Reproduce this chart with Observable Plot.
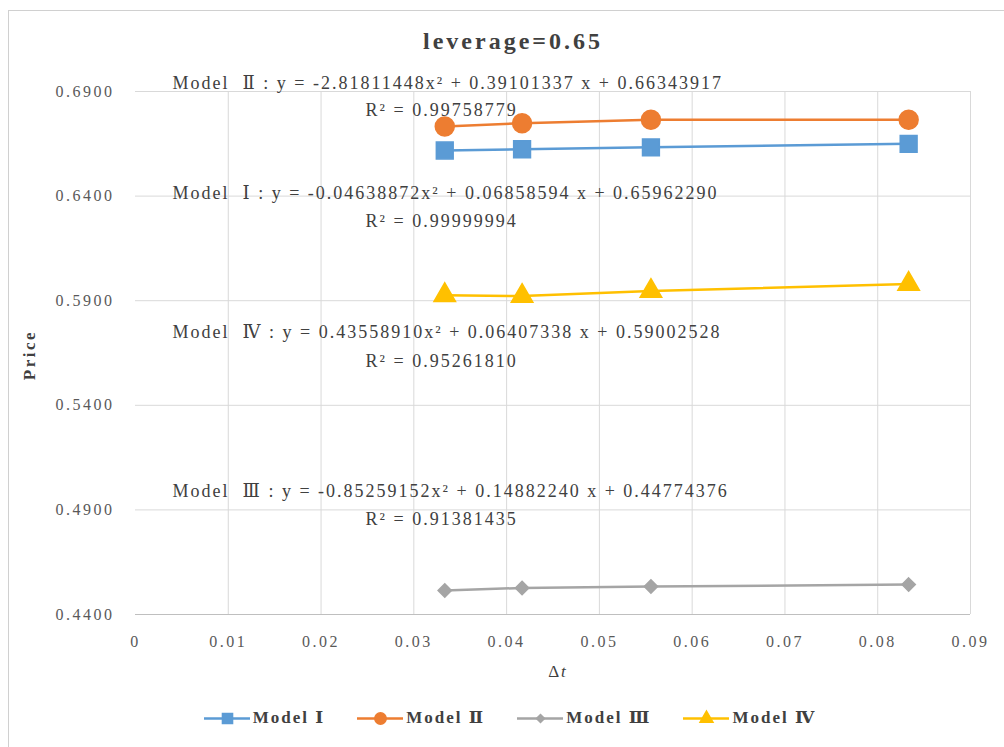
<!DOCTYPE html>
<html>
<head>
<meta charset="utf-8">
<script src="https://cdn.jsdelivr.net/npm/d3@7"></script>
<script src="https://cdn.jsdelivr.net/npm/@observablehq/plot@0.6"></script>
<style>
  body { margin: 0; background: #fff; font-family: "Liberation Serif", "DejaVu Serif", serif; }
  #wrap { position: relative; width: 1004px; height: 747px; overflow: hidden; }
  #frame { position: absolute; left: 8px; top: 10px; width: 1000px; height: 745px; border: 1px solid #d0d0d0; box-sizing: border-box; }
  #title { position: absolute; left: 0; width: 1026px; top: 28px; text-align: center; font-weight: bold; font-size: 24px; letter-spacing: 3px; color: #404040; }
  #chart { position: absolute; left: 0; top: 60px; }
  #ylabel { position: absolute; left: 30px; top: 355px; transform: translate(-50%, -50%) rotate(-90deg); font-weight: bold; font-size: 17px; letter-spacing: 2.5px; color: #404040; }
  #xlabel { position: absolute; left: 558px; top: 672px; transform: translate(-50%, -50%); font-size: 17px; letter-spacing: 2px; color: #404040; }
  #legend { position: absolute; top: 707px; left: 0; width: 1020px; display: flex; justify-content: center; gap: 32px; font-weight: bold; font-size: 17px; letter-spacing: 2px; color: #404040; }
  .item { display: flex; align-items: center; gap: 3px; }
  #chart svg text { font-family: "Liberation Serif", "DejaVu Serif", serif !important; }
  #chart g[aria-label="y-axis tick label"] text,
  #chart g[aria-label="x-axis tick label"] text { letter-spacing: 2.5px; }
  #chart g[aria-label="text"] text { letter-spacing: 2px; }
</style>
</head>
<body>
<div id="wrap">
  <div id="frame"></div>
  <div id="title">leverage=0.65</div>
  <div id="chart"></div>
  <div id="ylabel">Price</div>
  <div id="xlabel">Δ<i>t</i></div>
  <div id="legend"></div>
</div>
<script>
const dt = [1/30, 1/24, 1/18, 1/12];
const seriesNames = ["Model Ⅰ", "Model Ⅱ", "Model Ⅲ", "Model Ⅳ"];
const modelI   = [0.6618, 0.6624, 0.6633, 0.6650];
const modelII  = [0.6733, 0.6748, 0.6765, 0.6765];
const modelIII = [0.4515, 0.4527, 0.4534, 0.4543];
const modelIV  = [0.5926, 0.5922, 0.5946, 0.5980];
const seriesValues = [modelI, modelII, modelIII, modelIV];
const colors = ["#5B9BD5", "#ED7D31", "#A5A5A5", "#FFC000"];
const symbols = ["square", "circle", "diamond2", "triangle"];
const radii = [9.5, 9.5, 6, 8];
const yTicks = [0.44, 0.49, 0.54, 0.59, 0.64, 0.69];
const xTicks = [0, 0.01, 0.02, 0.03, 0.04, 0.05, 0.06, 0.07, 0.08, 0.09];
const eqTexts = [
  "Model  Ⅱ : y = -2.81811448x² + 0.39101337 x + 0.66343917",
  "R² = 0.99758779",
  "Model  Ⅰ : y = -0.04638872x² + 0.06858594 x + 0.65962290",
  "R² = 0.99999994",
  "Model  Ⅳ : y = 0.43558910x² + 0.06407338 x + 0.59002528",
  "R² = 0.95261810",
  "Model  Ⅲ : y = -0.85259152x² + 0.14882240 x + 0.44774376",
  "R² = 0.91381435"
];
const eqX = [0.0040, 0.0248, 0.0040, 0.0248, 0.0040, 0.0248, 0.0040, 0.0248];
const eqY = [0.6938, 0.6809, 0.6412, 0.6279, 0.5748, 0.5609, 0.4988, 0.4854];

const rows = [];
seriesNames.forEach((s, i) => dt.forEach((x, j) => rows.push({series: s, idx: i, x, y: seriesValues[i][j]})));
const notes = eqTexts.map((t, i) => ({t, x: eqX[i], y: eqY[i]}));
const FONT = "'Liberation Serif', 'DejaVu Serif', serif";

const marks = [
  Plot.gridY(yTicks, {stroke: "#d9d9d9", strokeOpacity: 1}),
  Plot.gridX(xTicks.slice(1), {stroke: "#d9d9d9", strokeOpacity: 1}),
  Plot.ruleY([0.44], {stroke: "#bfbfbf"}),
  Plot.axisY(yTicks, {tickSize: 0, tickPadding: 21, tickFormat: d3.format(".4f"), fontSize: 16, fontFamily: FONT, fill: "#595959", label: null}),
  Plot.axisX(xTicks, {tickSize: 0, tickPadding: 21, tickFormat: d => d3.format("")(+d.toFixed(2)), fontSize: 16, fontFamily: FONT, fill: "#595959", label: null})
];
seriesNames.forEach((s, i) => {
  const data = rows.filter(r => r.idx === i);
  marks.push(Plot.line(data, {x: "x", y: "y", stroke: colors[i], strokeWidth: 2.5}));
  marks.push(Plot.dot(data, {x: "x", y: "y", fill: colors[i], stroke: colors[i], symbol: () => symbols[i], r: radii[i]}));
});
marks.push(Plot.text(notes, {x: "x", y: "y", text: "t", textAnchor: "start", fontSize: 18, fill: "#404040", fontFamily: FONT}));

const chart = Plot.plot({
  width: 1004,
  height: 620,
  marginLeft: 135,
  marginRight: 34,
  marginTop: 31,
  marginBottom: 66,
  style: {fontFamily: FONT, background: "transparent", overflow: "visible"},
  x: {domain: [0, 0.09]},
  y: {domain: [0.44, 0.69]},
  symbol: {type: "identity"},
  marks
});
document.getElementById("chart").appendChild(chart);

const legend = document.getElementById("legend");
seriesNames.forEach((s, i) => {
  const item = document.createElement("div");
  item.className = "item";
  const sw = Plot.plot({
    width: 46, height: 20, margin: 0,
    x: {domain: [0, 1], axis: null}, y: {domain: [0, 1], axis: null},
    style: {background: "transparent", overflow: "visible"},
    marks: [
      Plot.ruleY([0.5], {x1: 0, x2: 1, stroke: colors[i], strokeWidth: 2.5}),
      Plot.dot([{x: 0.5, y: 0.5}], {x: "x", y: "y", fill: colors[i], stroke: colors[i], symbol: () => symbols[i], r: radii[i] * 0.6})
    ]
  });
  item.appendChild(sw);
  const lbl = document.createElement("span");
  lbl.textContent = s;
  item.appendChild(lbl);
  legend.appendChild(item);
});
</script>
</body>
</html>
